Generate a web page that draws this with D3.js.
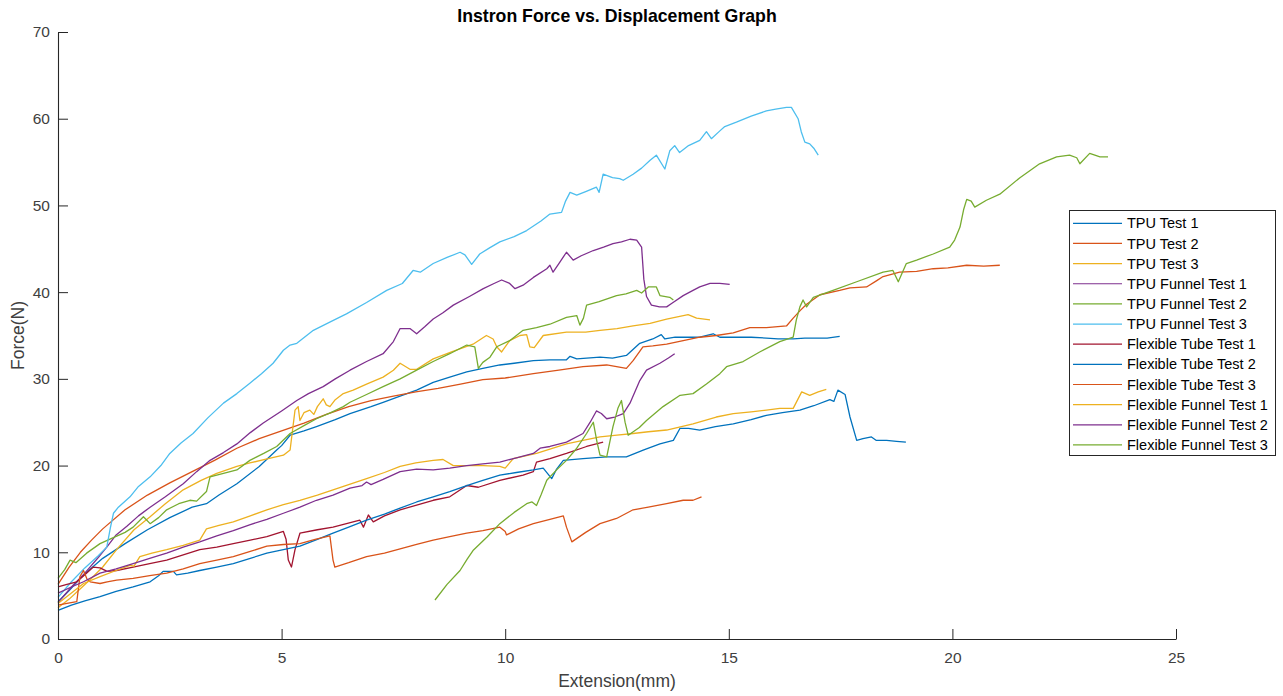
<!DOCTYPE html>
<html>
<head>
<meta charset="utf-8">
<script src="https://cdn.jsdelivr.net/npm/d3@7"></script>
<style>
  body { margin: 0; background: #fff; }
  text { font-family: "Liberation Sans", Arial, Helvetica, sans-serif; }
</style>
</head>
<body>
<div id="chart"></div>
<script>
// series names (legend order = draw order)
var seriesNames = [
    "TPU Test 1", "TPU Test 2", "TPU Test 3",
    "TPU Funnel Test 1", "TPU Funnel Test 2", "TPU Funnel Test 3",
    "Flexible Tube Test 1", "Flexible Tube Test 2", "Flexible Tube Test 3",
    "Flexible Funnel Test 1", "Flexible Funnel Test 2", "Flexible Funnel Test 3"
];

// [extension mm, force N]
var tpuTest1 = [[0,4.3],[0.25,5.6],[0.5,7.0],[0.75,8.2],[1,9.3],[1.5,11.0],[2,12.6],[2.5,14.0],[3,15.2],[3.32,15.6],[3.6,16.6],[4,17.9],[4.5,19.9],[4.89,21.8],[5.0,22.3],[5.19,23.5],[5.5,24.0],[5.78,24.5],[6.2,25.3],[6.53,26.0],[7,26.8],[7.27,27.3],[7.65,28.0],[8.02,28.7],[8.39,29.6],[8.76,30.2],[9.14,30.8],[9.5,31.2],[9.88,31.6],[10.2,31.8],[10.63,32.1],[11.0,32.2],[11.37,32.2],[11.45,32.6],[11.6,32.3],[12.12,32.5],[12.4,32.4],[12.71,32.7],[13.01,34.1],[13.3,34.6],[13.49,35.1],[13.57,34.6],[13.8,34.8],[14.05,34.8],[14.35,34.8],[14.65,35.2],[14.8,34.8],[15.1,34.8],[15.5,34.8],[15.84,34.7],[16.1,34.6],[16.44,34.6],[16.7,34.7],[16.96,34.7],[17.2,34.7],[17.48,34.9]];
var tpuTest2 = [[0,6.3],[0.25,8.3],[0.5,10.0],[0.75,11.4],[1,12.7],[1.5,14.9],[2,16.6],[2.5,18.0],[3,19.3],[3.5,20.6],[4,22.0],[4.5,23.1],[5,24.0],[5.5,24.9],[6,25.9],[6.5,26.8],[7,27.5],[7.5,28.0],[8,28.5],[8.5,28.9],[9,29.4],[9.5,29.9],[10,30.1],[10.63,30.6],[11.2,31.0],[11.74,31.4],[12.27,31.6],[12.71,31.2],[12.86,32.1],[13.08,33.7],[13.3,33.8],[13.61,34.0],[13.98,34.4],[14.35,34.8],[14.72,35.0],[15.1,35.3],[15.47,35.9],[15.84,35.9],[16.29,36.1],[16.44,37.0],[16.6,37.9],[16.74,38.6],[17.04,39.7],[17.48,40.2],[17.71,40.5],[18.08,40.6],[18.3,41.3],[18.45,41.8],[18.82,42.3],[19.2,42.4],[19.57,42.7],[19.9,42.8],[20.32,43.1],[20.7,43.0],[21.06,43.1]];
var tpuTest3 = [[0,3.6],[0.25,4.6],[0.5,5.8],[0.75,7.0],[1,8.3],[1.31,10.3],[1.7,12.6],[2.06,14.1],[2.4,15.6],[2.8,17.2],[3.2,18.3],[3.55,19.1],[4,19.9],[4.29,20.3],[4.7,20.8],[5.04,21.2],[5.19,21.8],[5.3,26.4],[5.37,26.8],[5.41,25.2],[5.5,26.1],[5.63,26.4],[5.72,25.9],[5.8,26.8],[5.93,27.7],[6.0,27.0],[6.08,26.8],[6.2,27.6],[6.38,28.3],[6.6,28.7],[6.9,29.4],[7.27,30.2],[7.5,31.0],[7.65,31.8],[7.87,31.1],[8.02,31.1],[8.39,32.3],[8.8,33.1],[9.28,34.0],[9.58,35.0],[9.73,34.6],[9.81,33.7],[9.92,33.1],[10.1,34.4],[10.33,35.0],[10.48,35.1],[10.55,33.7],[10.65,33.6],[10.85,35.0],[11.37,35.4],[11.8,35.4],[12.12,35.6],[12.5,35.8],[12.86,36.1],[13.24,36.4],[13.61,36.9],[14.09,37.4],[14.28,37.0],[14.58,36.8]];
var tpuFunnel1 = [[0,4.2],[0.3,6.0],[0.6,7.6],[0.9,9.4],[1.09,10.6],[1.3,12.0],[1.54,13.0],[1.8,14.2],[2.06,15.2],[2.4,16.4],[2.8,17.9],[3.1,19.3],[3.4,20.6],[3.7,21.5],[4.0,22.5],[4.3,23.8],[4.59,24.9],[5.0,26.3],[5.34,27.5],[5.6,28.3],[5.93,29.1],[6.2,30.0],[6.53,31.0],[6.9,32.0],[7.27,32.9],[7.5,34.3],[7.65,35.8],[7.87,35.8],[8.02,35.2],[8.2,36.0],[8.39,36.9],[8.6,37.6],[8.84,38.5],[9.2,39.5],[9.51,40.4],[9.75,41.0],[9.92,41.4],[10.1,41.0],[10.22,40.4],[10.4,40.8],[10.63,41.7],[10.93,42.7],[11.0,43.1],[11.07,42.3],[11.2,43.3],[11.37,44.6],[11.52,43.7],[11.7,44.2],[11.97,44.8],[12.2,45.2],[12.41,45.6],[12.6,45.8],[12.79,46.1],[12.94,46.0],[13.05,45.2],[13.1,41.5],[13.16,39.5],[13.27,38.5],[13.45,38.3],[13.61,38.3],[13.72,38.7],[13.98,39.6],[14.2,40.2],[14.35,40.6],[14.58,41.0],[14.8,41.0],[15.02,40.9]];
var tpuFunnel2 = [[0,7.0],[0.15,8.0],[0.27,9.1],[0.4,8.8],[0.64,9.9],[0.94,11.0],[1.2,11.6],[1.5,12.3],[1.68,12.9],[1.91,14.1],[2.06,13.3],[2.25,14.0],[2.43,14.9],[2.7,15.6],[2.95,16.0],[3.1,15.9],[3.32,17.0],[3.4,18.7],[3.7,19.1],[4.0,19.5],[4.29,20.6],[4.6,21.4],[4.89,22.2],[5.19,23.7],[5.5,24.6],[5.78,25.4],[6.1,26.1],[6.38,26.8],[6.53,27.3],[6.9,28.2],[7.27,29.1],[7.65,30.0],[8.02,31.0],[8.39,32.0],[8.76,32.9],[9.14,33.9],[9.32,33.7],[9.4,31.2],[9.5,31.9],[9.66,32.5],[9.81,33.7],[10.1,34.4],[10.4,35.6],[10.7,35.9],[11.0,36.3],[11.37,37.1],[11.6,37.3],[11.67,36.2],[11.75,37.0],[11.82,38.5],[12.1,38.9],[12.49,39.6],[12.7,39.8],[12.94,40.2],[13.05,39.9],[13.2,40.6],[13.38,40.6],[13.46,39.6],[13.68,39.4],[13.76,39.1]];
var tpuFunnel3 = [[0,4.8],[0.3,6.6],[0.6,8.2],[0.9,9.6],[1.09,10.6],[1.17,12.8],[1.24,14.5],[1.35,15.2],[1.61,16.4],[1.8,17.6],[2.06,18.7],[2.3,20.0],[2.5,21.4],[2.75,22.6],[3.02,23.7],[3.35,25.5],[3.7,27.2],[4.0,28.3],[4.29,29.5],[4.55,30.6],[4.81,31.8],[5.04,33.3],[5.19,33.9],[5.34,34.1],[5.71,35.6],[6.1,36.6],[6.45,37.5],[6.9,38.8],[7.35,40.2],[7.7,41.0],[7.94,42.5],[8.1,42.3],[8.39,43.3],[8.7,44.0],[8.99,44.6],[9.1,44.3],[9.25,43.2],[9.43,44.4],[9.65,45.1],[9.88,45.8],[10.2,46.4],[10.48,47.1],[10.8,48.2],[11.0,49.0],[11.26,49.2],[11.35,50.5],[11.45,51.5],[11.6,51.2],[11.8,51.6],[12.04,52.1],[12.1,51.5],[12.19,53.6],[12.4,53.2],[12.56,53.1],[12.64,52.9],[12.86,53.6],[13.05,54.3],[13.24,55.2],[13.38,55.8],[13.57,54.2],[13.68,56.3],[13.79,56.9],[13.9,56.1],[14.1,56.9],[14.35,57.5],[14.5,58.5],[14.61,57.7],[14.8,58.6],[14.91,59.1],[15.17,59.6],[15.5,60.3],[15.84,60.9],[16.05,61.1],[16.29,61.3],[16.4,61.3],[16.55,60.0],[16.62,58.5],[16.7,57.3],[16.81,57.1],[16.9,56.6],[17.0,55.8]];
var flexTube1 = [[0,6.0],[0.2,6.3],[0.42,6.6],[0.6,7.4],[0.79,8.3],[0.94,8.2],[1.1,7.8],[1.31,7.9],[1.68,8.3],[2.05,8.7],[2.43,9.1],[2.8,9.7],[3.17,10.3],[3.55,10.6],[3.92,11.0],[4.3,11.4],[4.67,11.8],[5.04,12.4],[5.1,11.5],[5.15,9.1],[5.22,8.3],[5.3,10.3],[5.41,12.2],[5.8,12.6],[6.15,12.9],[6.45,13.3],[6.75,13.7],[6.83,12.9],[6.94,14.3],[7.05,13.5],[7.3,14.2],[7.65,14.9],[8.0,15.4],[8.39,16.0],[8.76,16.4],[9.14,17.7],[9.4,17.5],[9.88,18.3],[10.4,18.9],[10.63,19.3],[10.7,20.4],[11.0,20.8],[11.37,21.4],[11.82,22.2],[12.19,22.7]];
var flexTube2 = [[0,3.3],[0.3,3.9],[0.6,4.4],[0.94,4.9],[1.3,5.5],[1.68,6.0],[2.06,6.6],[2.25,7.3],[2.35,7.8],[2.58,7.8],[2.65,7.4],[2.9,7.6],[3.17,7.9],[3.55,8.3],[3.92,8.7],[4.3,9.3],[4.67,9.9],[5.04,10.3],[5.41,10.7],[5.8,11.5],[6.15,12.2],[6.5,12.9],[6.9,13.7],[7.3,14.4],[7.65,15.1],[8.02,15.8],[8.39,16.4],[8.76,17.0],[9.14,17.7],[9.5,18.3],[9.88,18.9],[10.25,19.2],[10.63,19.5],[10.85,19.7],[11.04,18.5],[11.15,19.6],[11.3,20.6],[11.74,20.8],[12.27,21.0],[12.71,21.0],[13.1,21.8],[13.46,22.5],[13.76,22.9],[13.91,24.3],[14.1,24.3],[14.35,24.1],[14.7,24.5],[15.1,24.8],[15.5,25.3],[15.84,25.8],[16.2,26.1],[16.59,26.4],[16.9,26.9],[17.26,27.6],[17.35,27.4],[17.44,28.7],[17.6,28.2],[17.71,25.6],[17.86,22.9],[18.0,23.1],[18.19,23.3],[18.3,22.9],[18.53,22.9],[18.75,22.8],[18.96,22.7]];
var flexTube3 = [[0,3.9],[0.2,4.1],[0.42,4.3],[0.49,7.2],[0.57,7.9],[0.65,6.9],[0.72,6.6],[0.94,6.4],[1.1,6.6],[1.31,6.8],[1.68,7.0],[2.05,7.3],[2.43,7.6],[2.8,8.1],[3.17,8.7],[3.55,9.1],[3.92,9.5],[4.3,10.1],[4.67,10.7],[5.04,10.9],[5.41,11.0],[5.75,11.5],[6.08,11.9],[6.15,9.1],[6.19,8.3],[6.5,8.8],[6.9,9.5],[7.3,9.9],[7.65,10.4],[8.02,10.9],[8.39,11.4],[8.76,11.8],[9.14,12.2],[9.5,12.5],[9.88,12.9],[10.0,12.4],[10.03,12.0],[10.3,12.7],[10.63,13.3],[11.0,13.8],[11.3,14.2],[11.37,12.9],[11.49,11.2],[11.8,12.3],[12.12,13.3],[12.49,13.9],[12.86,14.9],[13.2,15.2],[13.61,15.6],[13.98,16.0],[14.2,16.0],[14.39,16.4]];
var flexFunnel1 = [[0,4.1],[0.3,5.3],[0.57,6.4],[0.94,7.2],[1.3,7.9],[1.61,8.5],[1.7,8.4],[1.83,9.5],[2.1,9.9],[2.43,10.3],[2.8,10.8],[3.17,11.4],[3.32,12.7],[3.6,13.1],[3.92,13.5],[4.3,14.2],[4.67,14.9],[5.04,15.5],[5.41,16.0],[5.8,16.6],[6.15,17.2],[6.5,17.8],[6.9,18.5],[7.3,19.2],[7.65,19.9],[8.0,20.3],[8.39,20.6],[8.61,20.7],[8.84,20.0],[9.2,20.0],[9.51,20.0],[9.88,19.9],[10.0,19.7],[10.18,20.8],[10.7,21.4],[11.0,21.9],[11.37,22.5],[11.74,22.9],[12.12,23.3],[12.5,23.5],[12.86,23.7],[13.2,23.9],[13.61,24.1],[14.2,24.8],[14.72,25.6],[15.1,26.0],[15.5,26.2],[15.84,26.4],[16.14,26.6],[16.44,26.6],[16.63,28.5],[16.81,28.1],[17.0,28.5],[17.18,28.8]];
var flexFunnel2 = [[0,5.3],[0.3,6.0],[0.57,6.6],[0.94,7.6],[1.3,8.1],[1.68,8.7],[2.05,9.3],[2.43,9.9],[2.8,10.6],[3.17,11.2],[3.55,11.9],[3.92,12.5],[4.3,13.2],[4.67,13.8],[5.04,14.5],[5.41,15.2],[5.78,16.0],[6.15,16.6],[6.53,17.4],[6.8,17.7],[6.9,18.1],[7.0,17.8],[7.27,18.4],[7.65,19.3],[8.02,19.6],[8.39,19.5],[8.76,19.7],[9.14,20.0],[9.5,20.2],[9.88,20.4],[10.25,20.9],[10.63,21.4],[10.78,22.0],[11.0,22.2],[11.37,22.7],[11.74,23.7],[11.9,25.0],[12.04,26.3],[12.15,26.0],[12.27,25.4],[12.45,25.6],[12.64,26.0],[12.79,27.2],[13.01,29.8],[13.16,31.0],[13.46,31.8],[13.65,32.4],[13.79,32.9]];
var flexFunnel3 = [[8.43,4.5],[8.7,6.3],[8.99,7.9],[9.15,9.2],[9.28,10.2],[9.6,11.8],[9.88,13.3],[10.2,14.6],[10.48,15.6],[10.6,15.8],[10.7,15.4],[10.8,16.6],[10.93,18.3],[11.15,19.5],[11.37,20.6],[11.6,22.0],[11.82,23.7],[11.97,25.0],[12.05,22.8],[12.12,21.2],[12.27,21.0],[12.41,24.5],[12.52,26.6],[12.6,27.5],[12.68,25.0],[12.75,23.5],[13.0,24.4],[13.16,25.2],[13.53,26.8],[13.91,28.1],[14.2,28.3],[14.5,29.4],[14.8,30.6],[14.95,31.4],[15.32,32.0],[15.69,33.1],[16.14,34.3],[16.44,34.8],[16.51,36.8],[16.59,38.3],[16.66,39.1],[16.74,38.3],[16.89,39.4],[17.33,40.2],[17.86,41.2],[18.45,42.3],[18.67,42.5],[18.79,41.2],[18.97,43.3],[19.2,43.7],[19.57,44.4],[19.94,45.2],[20.05,46.0],[20.17,47.5],[20.25,49.5],[20.32,50.7],[20.42,50.5],[20.5,49.8],[20.76,50.6],[21.06,51.3],[21.51,53.2],[21.95,54.8],[22.33,55.6],[22.62,55.8],[22.78,55.5],[22.85,54.8],[23.07,56.0],[23.3,55.6],[23.48,55.6]];

var xTicks = [0, 5, 10, 15, 20, 25];
var yTicks = [0, 10, 20, 30, 40, 50, 60, 70];

var allSeries = [tpuTest1, tpuTest2, tpuTest3, tpuFunnel1, tpuFunnel2, tpuFunnel3,
    flexTube1, flexTube2, flexTube3, flexFunnel1, flexFunnel2, flexFunnel3];

// MATLAB default colour order, cycled
var colorOrder = ["#0072BD", "#D95319", "#EDB120", "#7E2F8E", "#77AC30", "#4DBEEE", "#A2142F"];
var axisColor = "#262626";

var width = 1283, height = 696;
var plotLeft = 58, plotRight = 1176, plotTop = 32, plotBottom = 639;

var svg = d3.select("#chart").append("svg")
    .attr("width", width)
    .attr("height", height);

var x = d3.scaleLinear().domain([0, 25]).range([plotLeft, plotRight]);
var y = d3.scaleLinear().domain([0, 70]).range([plotBottom, plotTop]);

// lines
var line = d3.line()
    .x(function (d) { return x(d[0]); })
    .y(function (d) { return y(d[1]); });

svg.append("g").selectAll("path")
    .data(allSeries)
    .enter()
    .append("path")
    .attr("d", line)
    .attr("fill", "none")
    .attr("stroke", function (d, i) { return colorOrder[i % colorOrder.length]; })
    .attr("stroke-width", 1.3)
    .attr("stroke-linejoin", "round");

// axes, ticks pointing inwards
var xAxis = svg.append("g")
    .attr("transform", "translate(0," + plotBottom + ")")
    .call(d3.axisBottom(x).tickValues(xTicks).tickFormat(d3.format("d"))
        .tickSizeInner(-10).tickSizeOuter(0).tickPadding(13));

var yAxis = svg.append("g")
    .attr("transform", "translate(" + plotLeft + ",0)")
    .call(d3.axisLeft(y).tickValues(yTicks).tickFormat(d3.format("d"))
        .tickSizeInner(-10).tickSizeOuter(0).tickPadding(8));

[xAxis, yAxis].forEach(function (g) {
    g.select(".domain").attr("stroke", axisColor).attr("stroke-width", 1.1);
    g.selectAll(".tick line").attr("stroke", axisColor);
    g.selectAll(".tick text")
        .attr("fill", "#404040")
        .style("font-size", "15.5px")
        .style("font-family", "'Liberation Sans', Arial, sans-serif");
});

// title and axis labels
svg.append("text")
    .attr("x", (plotLeft + plotRight) / 2)
    .attr("y", 22)
    .attr("text-anchor", "middle")
    .style("font-size", "17.7px")
    .style("font-weight", "bold")
    .attr("fill", "#000")
    .text("Instron Force vs. Displacement Graph");

svg.append("text")
    .attr("x", (plotLeft + plotRight) / 2)
    .attr("y", 687)
    .attr("text-anchor", "middle")
    .style("font-size", "17.5px")
    .attr("fill", "#404040")
    .text("Extension(mm)");

svg.append("text")
    .attr("transform", "translate(24," + (plotTop + plotBottom) / 2 + ") rotate(-90)")
    .attr("text-anchor", "middle")
    .style("font-size", "17.5px")
    .attr("fill", "#404040")
    .text("Force(N)");

// legend
var legend = svg.append("g").attr("transform", "translate(1069,210)");

legend.append("rect")
    .attr("x", 0.5).attr("y", 0.5)
    .attr("width", 206).attr("height", 245)
    .attr("fill", "#fff")
    .attr("stroke", axisColor)
    .attr("stroke-width", 1);

var rows = legend.selectAll("g.row")
    .data(seriesNames)
    .enter()
    .append("g")
    .attr("class", "row")
    .attr("transform", function (d, i) { return "translate(0," + (13.3 + i * 20.15) + ")"; });

rows.append("line")
    .attr("x1", 4).attr("x2", 53)
    .attr("y1", 0).attr("y2", 0)
    .attr("stroke", function (d, i) { return colorOrder[i % colorOrder.length]; })
    .attr("stroke-width", 1.2);

rows.append("text")
    .attr("x", 58)
    .attr("y", 0)
    .attr("dy", "0.35em")
    .style("font-size", "14.5px")
    .attr("fill", "#000")
    .text(function (d) { return d; });
</script>
</body>
</html>
